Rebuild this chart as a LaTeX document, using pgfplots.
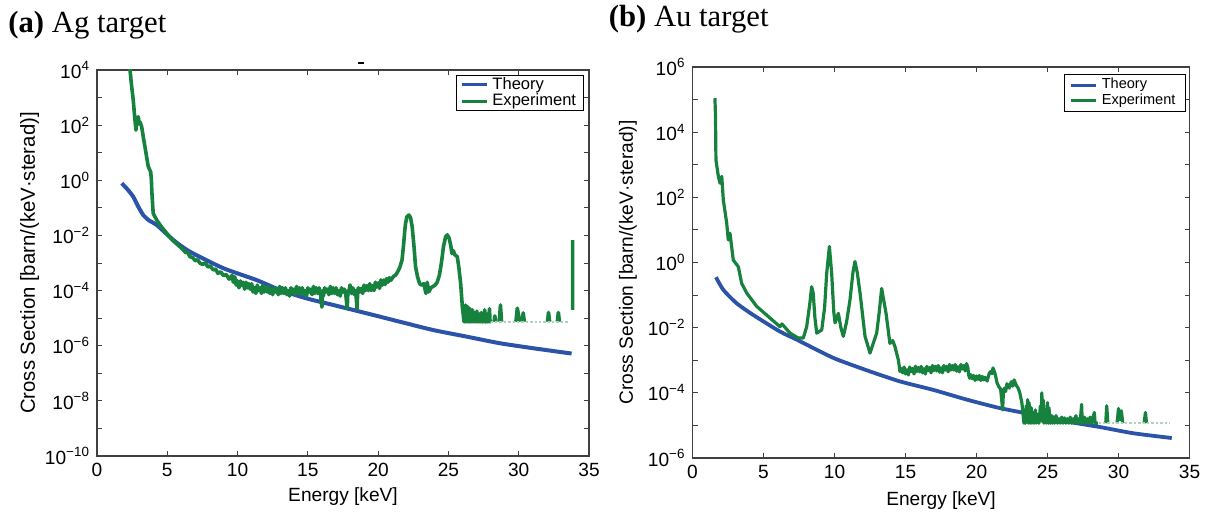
\documentclass[border=0pt]{standalone}
\usepackage{fontspec}
\setmainfont{Liberation Sans}
\newfontfamily\titlefont{Liberation Serif}
\usepackage{pgfplots}
\pgfplotsset{compat=1.18}
\definecolor{thblue}{RGB}{43,84,168}
\definecolor{exgreen}{RGB}{22,130,62}
\begin{document}
\begin{tikzpicture}
\useasboundingbox (0,0) rectangle (603.5bp,258bp);
\node[anchor=base west,inner sep=0pt,font=\titlefont\fontsize{15.4}{16}\selectfont] at (4bp,241.5bp) {\textbf{(a)} Ag target};
\node[anchor=base west,inner sep=0pt,font=\titlefont\fontsize{15.4}{16}\selectfont] at (304.25bp,244.5bp) {\textbf{(b)} Au target};
\draw[line width=0.6bp] (179bp,226.5bp) -- (182bp,226.5bp);
% ---------------- (a) Ag ----------------
\begin{axis}[
  scale only axis,
  xmin=0,xmax=35,
  ymode=log,
  xtick={0,5,...,35},
  tick align=inside,
  major tick length=2.5bp,
  minor tick length=2.5bp,
  axis line style={line width=0.6bp, black!75},
  every tick/.style={black!75, line width=0.5bp},
  /pgf/number format/assume math mode=true,
  unbounded coords=jump,
  legend cell align=left,
  ticklabel style={font=\fontsize{9.6}{10}\selectfont},
  label style={font=\fontsize{9.6}{10}\selectfont},
  at={(48.5bp,30bp)}, anchor=south west,
  width=246bp, height=193bp,
  ymin=1e-10, ymax=1e4,
  ytick={1e-10,1e-8,1e-6,1e-4,1e-2,1,1e2,1e4},
  minor ytick={1e-9,1e-7,1e-5,1e-3,1e-1,1e1,1e3},
  yticklabels={10\textsuperscript{−10},10\textsuperscript{−8},10\textsuperscript{−6},10\textsuperscript{−4},10\textsuperscript{−2},10\textsuperscript{0},10\textsuperscript{2},10\textsuperscript{4}},
  xlabel={Energy [keV]},
  ylabel={Cross Section [barn/(keV·sterad)]},
  xlabel style={at={(axis description cs:0.5,0)},anchor=center,yshift=-20.5bp},
  ylabel style={at={(axis description cs:-0.137,0.5)},anchor=center,font=\fontsize{10.2}{11}\selectfont},
  legend image code/.code={\draw[#1,line width=1.5bp] (0bp,0bp) -- (12.8bp,0bp);},
  legend style={at={(rel axis cs:1,1)},anchor=north east,xshift=-2.5bp,yshift=-2.5bp,
    font=\fontsize{8.3}{8.3}\selectfont, draw=black, line width=0.5bp,
    inner xsep=1.8bp, inner ysep=0.5bp, row sep=0bp,
    nodes={inner xsep=1.9bp, inner ysep=0.4bp}},
]
\addplot[thblue, line width=2bp, smooth, tension=0.4] coordinates {
(1.76,0.78)(2.20,0.45)(2.58,0.251)(2.94,0.11)(3.29,5.5e-2)(3.70,3.5e-2)(4.25,2.4e-2)(5.43,6.8e-3)(6.61,2.57e-3)(8.98,6.5e-4)(11.36,2.4e-4)(13.02,1.05e-4)(14.91,5.2e-5)(16.81,3.0e-5)(19.18,1.5e-5)(21.55,7.4e-6)(23.92,3.7e-6)(26.29,2.14e-6)(28.66,1.23e-6)(31.03,8.1e-7)(33.76,5.2e-7)
};
\addlegendentry{Theory}
\addplot[exgreen, line width=1.8bp, line join=round] coordinates {
(2.30,3e4)(2.35,1e4)(2.45,3e3)(2.58,8e2)(2.68,2e2)(2.77,66)(2.85,1.8e2)(2.94,2.0e2)(3.00,1.1e2)(3.06,1.3e2)(3.18,87)(3.30,35)(3.41,16.6)(3.53,7)(3.65,3.1)(3.72,2.6)(3.82,2.0)(3.87,1.0)(3.90,0.4)(3.95,0.15)(4.00,0.063)(4.25,0.036)(4.60,0.02)(4.96,0.012)(5.40,6.5e-3)
(5.90,3.9e-3)(6.10,3.16e-3)(6.30,2.4e-3)(6.45,2.5e-3)(6.60,1.7e-3)(6.80,1.58e-3)(7.00,1.2e-3)(7.15,1.32e-3)(7.33,9.8e-4)(7.50,8.9e-4)(7.70,1.0e-3)(7.90,7.1e-4)(8.05,7.9e-4)(8.27,5.6e-4)(8.45,6.0e-4)(8.60,4.2e-4)(8.80,4.8e-4)(9.00,3.5e-4)(9.20,3.8e-4)(9.40,2.6e-4)(9.50,3.0e-4)
(9.6,3.55e-4)(9.7,2.0e-4)(9.8,3.16e-4)(9.9,1.58e-4)(10.0,2.24e-4)(10.1,1.26e-4)(10.2,2.24e-4)(10.3,1.58e-4)(10.4,2.0e-4)(10.5,1.12e-4)(10.6,2.0e-4)(10.7,1.26e-4)(10.8,1.78e-4)(10.9,1.12e-4)(11.0,1.78e-4)(11.1,8.9e-5)(11.2,1.26e-4)(11.3,7.9e-5)(11.4,1.58e-4)(11.5,1.0e-4)(11.6,1.26e-4)(11.7,7.9e-5)(11.8,1.58e-4)(11.9,8.9e-5)
(12.0,1.26e-4)(12.1,8.9e-5)(12.2,1.41e-4)(12.3,7.9e-5)(12.4,1.12e-4)(12.5,7.1e-5)(12.6,1.26e-4)(12.7,8.9e-5)(12.8,1.12e-4)(12.9,7.1e-5)(13.0,1.41e-4)(13.1,7.9e-5)(13.2,1.26e-4)(13.3,7.9e-5)(13.4,1.26e-4)(13.5,7.1e-5)(13.6,1.0e-4)(13.7,6.3e-5)(13.8,1.26e-4)(13.9,8.9e-5)
(14.0,1.12e-4)(14.1,7.1e-5)(14.2,1.41e-4)(14.3,7.9e-5)(14.4,1.26e-4)(14.5,7.9e-5)(14.6,1.26e-4)(14.7,7.1e-5)(14.8,1.0e-4)(14.9,6.3e-5)(15.0,1.26e-4)(15.1,8.9e-5)(15.2,1.12e-4)(15.3,7.1e-5)(15.4,1.41e-4)(15.5,7.9e-5)(15.6,1.26e-4)(15.7,7.9e-5)(15.8,1.26e-4)(15.9,7.1e-5)(16.0,2.5e-5)(16.05,1.0e-4)
(16.1,6.3e-5)(16.2,1.26e-4)(16.3,8.9e-5)(16.4,1.12e-4)(16.5,7.1e-5)(16.6,1.41e-4)(16.7,7.9e-5)(16.8,1.26e-4)(16.9,7.9e-5)(17.0,1.26e-4)(17.1,7.1e-5)(17.2,1.0e-4)(17.3,6.3e-5)(17.4,1.26e-4)(17.5,8.9e-5)(17.6,1.12e-4)(17.7,7.1e-5)(17.8,2.2e-5)(17.85,1.0e-4)(17.9,7.9e-5)
(18.0,1.6e-4)(18.1,7.9e-5)(18.2,1.26e-4)(18.3,7.1e-5)(18.4,1.0e-4)(18.5,2.2e-5)(18.55,1.0e-4)(18.6,1.26e-4)(18.7,8.9e-5)(18.8,1.2e-4)(18.9,7.9e-5)(19.0,1.58e-4)(19.1,1.0e-4)(19.2,1.5e-4)(19.3,1.0e-4)(19.4,1.78e-4)(19.5,1.0e-4)(19.6,1.5e-4)(19.7,1.0e-4)(19.8,2.0e-4)(19.9,1.35e-4)
(20.0,1.9e-4)(20.1,1.2e-4)(20.2,2.45e-4)(20.3,1.58e-4)(20.4,2.4e-4)(20.5,1.66e-4)(20.6,2.7e-4)(20.7,2.0e-4)(20.8,2.95e-4)(20.9,2.35e-4)(21.0,2.8e-4)(21.1,3.3e-4)(21.2,3.5e-4)(21.3,4.0e-4)
(21.45,5.5e-4)(21.55,7.1e-4)(21.70,1.3e-3)(21.80,4.0e-3)(21.90,1.6e-2)(21.95,2.75e-2)(22.05,4.8e-2)(22.19,5.5e-2)(22.30,4.5e-2)(22.42,2.1e-2)(22.55,4.0e-3)(22.66,7.4e-4)(22.80,3.2e-4)(22.95,1.78e-4)(23.10,1.58e-4)(23.25,1.78e-4)(23.40,7.9e-5)(23.49,2.0e-4)(23.60,8.9e-5)(23.75,1.26e-4)(23.90,1.41e-4)(24.05,1.58e-4)(24.20,2.0e-4)
(24.35,3.5e-4)(24.50,1.0e-3)(24.65,4.0e-3)(24.80,8.9e-3)(24.92,1.05e-2)(25.05,7.9e-3)(25.16,4.5e-3)(25.25,2.2e-3)(25.35,2.8e-3)(25.45,2.0e-3)(25.63,1.7e-3)(25.75,6.3e-4)(25.87,1.8e-4)(25.99,2.6e-5)(26.11,7.4e-6)
(26.14,2.2e-5)(26.18,7.4e-6)(26.22,3e-5)(26.26,7.4e-6)(26.30,1.8e-5)(26.34,7.4e-6)(26.38,2.6e-5)(26.42,7.4e-6)(26.46,1.5e-5)(26.50,7.4e-6)(26.54,2.2e-5)(26.58,7.4e-6)(26.62,1.3e-5)(26.66,7.4e-6)(26.70,2e-5)(26.74,7.4e-6)(26.78,1.2e-5)(26.82,7.4e-6)(26.86,1.6e-5)(26.90,7.4e-6)(26.94,1.1e-5)(26.98,7.4e-6)(27.02,1.8e-5)(27.06,7.4e-6)(27.10,1.2e-5)(27.14,7.4e-6)
(27.18,1.4e-5)(27.22,7.4e-6)(27.26,1.1e-5)(27.30,7.4e-6)(27.34,1.6e-5)(27.38,7.4e-6)(27.46,7.4e-6)(27.50,1.2e-5)(27.54,7.4e-6)(27.58,2.0e-5)(27.62,7.4e-6)(27.70,7.4e-6)(27.74,1.1e-5)(27.78,7.4e-6)(27.82,1.5e-5)(27.86,7.4e-6)(27.92,2.2e-5)(27.96,7.4e-6)(28.00,7.4e-6)
(28.05,nan)
(28.25,7.4e-6)(28.30,1.2e-5)(28.35,7.4e-6)(28.40,nan)
(28.62,7.4e-6)(28.70,3.0e-5)(28.78,7.4e-6)(28.80,nan)
(29.80,7.4e-6)(29.90,2.3e-5)(30.00,1.2e-5)(30.05,7.4e-6)(30.10,nan)
(30.25,7.4e-6)(30.32,1.55e-5)(30.40,7.4e-6)(30.45,nan)
(32.05,7.4e-6)(32.12,1.6e-5)(32.20,7.4e-6)(32.25,nan)
(32.75,7.4e-6)(32.82,1.6e-5)(32.90,7.4e-6)(32.95,nan)
(33.83,2.0e-5)(33.83,6.8e-3)
};
\addlegendentry{Experiment}
\addplot[exgreen!35, line width=1.2bp, densely dotted, forget plot] coordinates {(28.0,7.4e-6)(33.6,7.4e-6)};
\end{axis}
% ---------------- (b) Au ----------------
\begin{axis}[
  scale only axis,
  xmin=0,xmax=35,
  ymode=log,
  xtick={0,5,...,35},
  tick align=inside,
  major tick length=2.5bp,
  minor tick length=2.5bp,
  axis line style={line width=0.6bp, black!75},
  every tick/.style={black!75, line width=0.5bp},
  /pgf/number format/assume math mode=true,
  unbounded coords=jump,
  legend cell align=left,
  ticklabel style={font=\fontsize{9.6}{10}\selectfont},
  label style={font=\fontsize{9.6}{10}\selectfont},
  at={(346.25bp,29bp)}, anchor=south west,
  width=248.5bp, height=195.5bp,
  ymin=1e-6, ymax=1e6,
  ytick={1e-6,1e-4,1e-2,1,1e2,1e4,1e6},
  minor ytick={1e-5,1e-3,1e-1,1e1,1e3,1e5},
  yticklabels={10\textsuperscript{−6},10\textsuperscript{−4},10\textsuperscript{−2},10\textsuperscript{0},10\textsuperscript{2},10\textsuperscript{4},10\textsuperscript{6}},
  xlabel={Energy [keV]},
  ylabel={Cross Section [barn/(keV·sterad)]},
  xlabel style={at={(axis description cs:0.5,0)},anchor=center,yshift=-21.5bp},
  ylabel style={at={(axis description cs:-0.130,0.5)},anchor=center},
  legend image code/.code={\draw[#1,line width=1.5bp] (0bp,0bp) -- (12.5bp,0bp);},
  legend style={at={(rel axis cs:1,1)},anchor=north east,xshift=-1.9bp,yshift=-3.6bp,
    font=\fontsize{7.3}{7.3}\selectfont, draw=black, line width=0.5bp,
    inner xsep=2.8bp, inner ysep=1.2bp, row sep=0bp,
    nodes={inner xsep=2.1bp, inner ysep=0.6bp}},
]
\addplot[thblue, line width=1.9bp, smooth, tension=0.4] coordinates {
(1.65,0.355)(2.17,0.145)(3.11,5.6e-2)(4.28,2.45e-2)(6.16,7.6e-3)(7.34,4.3e-3)(8.98,1.86e-3)(10.15,1.07e-3)(12.40,4.7e-4)(14.61,2.24e-4)(16.96,1.23e-4)(19.31,6.2e-5)(21.65,3.4e-5)(24.0,2.14e-5)(26.35,1.32e-5)(28.7,8.9e-6)(31.04,5.75e-6)(33.75,4.1e-6)
};
\addlegendentry{Theory}
\addplot[exgreen, line width=1.6bp, line join=round] coordinates {
(1.58,1.1e5)(1.62,3e4)(1.65,1.4e3)(1.82,4.4e2)(1.94,2.7e2)(2.06,4.4e2)(2.17,83)(2.41,16)(2.52,4.9)(2.64,7.9)(2.87,1.2)(3.00,1.0)(3.23,0.74)(3.46,0.23)(3.82,0.115)(4.52,4.5e-2)(5.34,2.2e-2)(6.16,1.07e-2)(6.30,1.3e-2)(6.87,6.8e-3)(7.45,4.8e-3)(7.80,4.8e-3)
(8.04,1.07e-2)(8.25,5e-2)(8.39,0.18)(8.50,0.115)(8.62,2e-2)(8.75,6.8e-3)(9.10,8.5e-3)(9.30,4e-2)(9.45,0.47)(9.64,3.1)(9.80,0.47)(9.95,3e-2)(10.04,1.4e-2)(10.27,2.75e-2)(10.45,1e-2)(10.62,5.4e-3)(10.85,1.5e-2)(11.09,7.1e-2)(11.30,0.5)(11.44,1.07)(11.60,0.5)(11.80,0.115)(12.15,5.4e-3)(12.50,1.66e-3)(12.97,6.8e-3)(13.15,3e-2)(13.32,0.16)(13.63,2.75e-2)(13.90,3.3e-3)(14.10,4e-3)(14.26,2.6e-3)(14.50,1.0e-3)
(14.61,4.5e-4)(14.7,5.6e-4)(14.8,4.1e-4)(14.9,6.2e-4)(15.0,3.8e-4)(15.1,5.1e-4)(15.2,3.55e-4)(15.3,6.2e-4)(15.4,4.5e-4)(15.5,5.6e-4)(15.6,3.8e-4)(15.7,6.6e-4)(15.8,4.5e-4)(15.9,6.0e-4)(16.0,4.4e-4)(16.1,6.5e-4)(16.2,4.1e-4)(16.3,5.5e-4)(16.4,3.8e-4)(16.5,6.5e-4)(16.6,4.8e-4)(16.7,6.0e-4)(16.8,4.1e-4)(16.9,6.9e-4)
(17.0,4.8e-4)(17.1,6.5e-4)(17.2,4.7e-4)(17.3,6.9e-4)(17.4,4.3e-4)(17.5,5.9e-4)(17.6,4.1e-4)(17.7,6.9e-4)(17.8,5.0e-4)(17.9,6.5e-4)(18.0,4.4e-4)(18.1,7.4e-4)(18.2,5.0e-4)(18.3,6.9e-4)(18.4,5.0e-4)(18.5,7.4e-4)(18.6,4.6e-4)(18.7,6.3e-4)(18.8,4.4e-4)(18.9,7.4e-4)(19.0,5.4e-4)(19.1,6.9e-4)(19.2,4.7e-4)(19.3,7.9e-4)(19.39,6.0e-4)
(19.45,3.5e-4)(19.52,2.8e-4)(19.6,3.6e-4)(19.7,2.7e-4)(19.8,3.4e-4)(19.9,2.4e-4)(20.0,3.3e-4)(20.1,2.6e-4)(20.2,3.4e-4)(20.3,2.4e-4)(20.4,3.2e-4)(20.5,2.5e-4)(20.6,3.0e-4)(20.75,2.3e-4)(20.9,4.0e-4)(21.0,4.5e-4)(21.1,3.9e-4)(21.16,5.8e-4)(21.3,4.0e-4)(21.45,2.0e-4)(21.57,1.55e-4)(21.7,1.3e-4)(21.84,3.0e-5)(21.9,1.2e-4)(21.98,1.4e-4)(22.05,1.1e-4)(22.15,1.9e-4)(22.3,1.4e-4)(22.45,2.2e-4)(22.55,1.6e-4)(22.65,2.5e-4)(22.8,1.7e-4)(22.93,1.4e-4)(23.05,1.0e-4)(23.2,4.8e-5)
(23.34,1.17e-5)(23.4,3e-5)(23.45,1.17e-5)(23.5,4e-5)(23.55,1.5e-5)(23.6,6.2e-5)(23.65,1.17e-5)(23.7,5e-5)(23.78,1.17e-5)(23.85,3.5e-5)(23.9,1.17e-5)(24.0,2.5e-5)(24.05,1.17e-5)(24.15,3e-5)(24.2,1.17e-5)(24.3,2.2e-5)(24.4,1.17e-5)(24.5,4e-5)(24.55,1.5e-5)(24.6,1.0e-4)(24.65,1.3e-5)(24.7,6e-5)(24.75,1.17e-5)(24.85,3e-5)(24.9,1.17e-5)(25.0,5e-5)(25.05,1.17e-5)(25.1,3.5e-5)(25.2,1.17e-5)(25.3,2e-5)(25.35,1.17e-5)(25.45,1.8e-5)(25.5,1.17e-5)(25.6,2e-5)(25.7,1.17e-5)(25.8,1.6e-5)(25.9,1.17e-5)(26.0,1.8e-5)
(26.1,1.17e-5)(26.2,1.7e-5)(26.3,1.17e-5)(26.4,1.6e-5)(26.5,1.17e-5)(26.6,1.8e-5)(26.7,1.17e-5)(26.8,1.6e-5)(26.9,1.17e-5)(27.0,2e-5)(27.1,1.17e-5)(27.2,1.6e-5)(27.3,1.17e-5)(27.4,4.4e-5)(27.45,1.17e-5)(27.6,1.8e-5)(27.7,1.17e-5)(27.8,1.6e-5)(27.9,1.17e-5)(28.0,1.8e-5)(28.1,1.17e-5)(28.3,2.5e-5)(28.35,1.17e-5)(28.55,1.17e-5)
(28.6,nan)
(29.10,1.17e-5)(29.17,4e-5)(29.25,1.17e-5)(29.30,nan)
(29.90,1.17e-5)(30.00,3.3e-5)(30.10,1.5e-5)(30.20,2.8e-5)(30.30,1.17e-5)(30.35,nan)
(31.80,1.17e-5)(31.90,2.5e-5)(31.97,1.17e-5)
};
\addlegendentry{Experiment}
\addplot[exgreen!35, line width=1.2bp, densely dotted, forget plot] coordinates {(28.6,1.17e-5)(33.6,1.17e-5)};
\end{axis}
\end{tikzpicture}
\end{document}
